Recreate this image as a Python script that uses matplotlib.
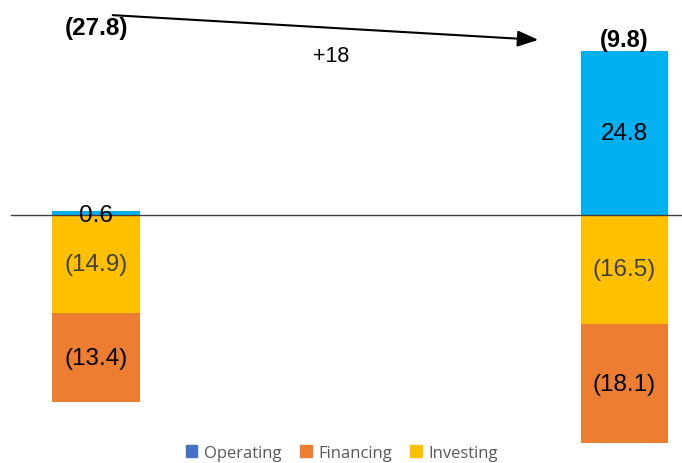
import matplotlib
matplotlib.use("Agg")
import matplotlib.pyplot as plt
from matplotlib.patches import Patch, FancyArrowPatch

# Data
periods = ["Period 1", "Period 2"]
operating = [0.6, 24.8]
investing = [-14.9, -16.5]
financing = [-13.4, -18.1]
total_labels = ["(27.8)", "(9.8)"]
change_label = "+18"
series_names = ["Operating", "Financing", "Investing"]

c_oper = "#00B0F0"
c_oper_leg = "#4472C4"
c_fin = "#ED7D31"
c_inv = "#FFC000"

W, H = 682, 464
fig = plt.figure(figsize=(W / 100, H / 100), dpi=100)
ax = fig.add_axes([0, 0, 1, 1])

scale = 6.6        # px per unit
zero_px = 216      # from top
xs = [0, 1]
ax.set_xlim(-96 / 528.5, (W - 96) / 528.5)
ax.set_ylim(-(H - zero_px) / scale, zero_px / scale)
ax.axis("off")

width = 88 / 528.5
font = ["Liberation Sans", "DejaVu Sans"]
fs = 17.5

def fmt(v):
    return f"({abs(v):.1f})" if v < 0 else f"{v:.1f}"

for i, x in enumerate(xs):
    ax.bar(x, operating[i], width, bottom=0, color=c_oper, zorder=2)
    ax.bar(x, investing[i], width, bottom=0, color=c_inv, zorder=2)
    ax.bar(x, financing[i], width, bottom=investing[i], color=c_fin, zorder=2)
    oy = operating[i] / 2 if operating[i] > 3 else 0
    ax.text(x, oy, fmt(operating[i]), ha="center", va="center",
            fontsize=fs, color="black", family=font, zorder=4)
    ax.text(x, investing[i] / 2, fmt(investing[i]), ha="center", va="center",
            fontsize=fs, color="#404040", family=font, zorder=4)
    ax.text(x, investing[i] + financing[i] / 2, fmt(financing[i]), ha="center",
            va="center", fontsize=fs, color="black", family=font, zorder=4)

# zero line
ax.plot([11 / W, 1], [1 - zero_px / H] * 2, transform=fig.transFigure,
        color="#404040", lw=1.0, zorder=3)

# totals
fig.text(96 / W, 1 - 29 / H, total_labels[0], ha="center", va="center",
         fontsize=17.5, fontweight="bold", family=font)
ax.annotate(total_labels[1], xy=(xs[1], operating[1]), xytext=(0, 0),
            textcoords="offset points", ha="center", va="bottom",
            fontsize=17, fontweight="bold", family=font)

# arrow
fig.add_artist(FancyArrowPatch(
    (110 / W, 1 - 16 / H), (541 / W, 1 - 41 / H), transform=fig.transFigure,
    arrowstyle="-|>,head_length=0.9,head_width=0.35", mutation_scale=14,
    color="black", lw=1.5))
fig.text(331 / W, 1 - 56 / H, change_label, ha="center", va="center",
         fontsize=15.5, family=font)

handles = [Patch(color=c_oper_leg), Patch(color=c_fin), Patch(color=c_inv)]
leg = fig.legend(handles, series_names, loc="center", bbox_to_anchor=(342 / W, 1 - 454 / H),
                 ncol=3, frameon=False, handlelength=0.7, handleheight=0.7,
                 handletextpad=0.4, columnspacing=1.1,
                 prop={"family": "Open Sans", "size": 12})
for t in leg.get_texts():
    t.set_color("#595959")

fig.savefig("out.png", dpi=100)
